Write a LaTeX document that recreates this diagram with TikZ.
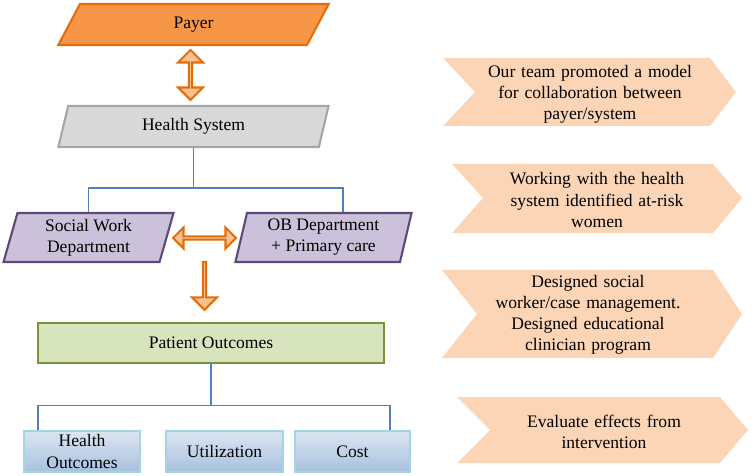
\documentclass[tikz,border=0pt]{standalone}
\usepackage{fontspec}
\setmainfont{Liberation Serif}
\usetikzlibrary{shapes.geometric,shapes.arrows,positioning}

\definecolor{payerfill}{HTML}{F79646}
\definecolor{payerline}{HTML}{E46C0A}
\definecolor{arrowfill}{HTML}{FAC090}
\definecolor{sysfill}{HTML}{D9D9D9}
\definecolor{sysline}{HTML}{A6A6A6}
\definecolor{deptfill}{HTML}{CCC1DA}
\definecolor{deptline}{HTML}{5F497A}
\definecolor{outfill}{HTML}{D7E4BD}
\definecolor{outline}{HTML}{77933C}
\definecolor{boxtop}{HTML}{DCE6F2}
\definecolor{boxbottom}{HTML}{A7C0DE}
\definecolor{boxline}{HTML}{A5D5E2}
\definecolor{treeline}{HTML}{4F81BD}
\definecolor{chevfill}{HTML}{FBD5B5}

\begin{document}
\begin{tikzpicture}[x=0.02cm, y=-0.02cm, font=\fontsize{10}{12}\selectfont,
    para/.style={trapezium, trapezium stretches=true, trapezium left angle=76, trapezium right angle=104, line width=1.2pt, align=center, inner sep=0pt},
    blockarrow/.style={fill=arrowfill, draw=payerline, line width=1.2pt, inner sep=0pt},
    outbox/.style={rectangle, draw=boxline, line width=1pt, top color=boxtop, bottom color=boxbottom, minimum height=0.82cm, align=center, inner sep=0pt},
    tree/.style={draw=treeline, line width=0.7pt},
    note/.style={align=center, text width=4.6cm}]
    \useasboundingbox (0,0) rectangle (754,476);

    % left column
    \node[para, fill=payerfill, draw=payerline, minimum width=5.42cm, minimum height=0.82cm] (payer) at (193.5,24.5) {Payer};
    \node[double arrow, blockarrow, rotate=90, minimum height=1cm, minimum width=0.5cm, double arrow head extend=0.14cm] (a1) at (190.5,75) {};
    \node[para, fill=sysfill, draw=sysline, minimum width=5.42cm, minimum height=0.82cm] (hs) at (193.5,126.5) {Health System};

    \node[para, trapezium left angle=77, trapezium right angle=103, fill=deptfill, draw=deptline, minimum width=3.42cm, minimum height=0.98cm] (sw) at (88.5,237.5) {Social Work\\Department};
    \node[para, trapezium left angle=77, trapezium right angle=103, fill=deptfill, draw=deptline, minimum width=3.54cm, minimum height=0.98cm] (ob) at (323.5,237.5) {OB Department\\+ Primary care};
    \node[double arrow, blockarrow, minimum height=1.26cm, minimum width=0.42cm, double arrow head extend=0.11cm] (a2) at (204.5,238) {};
    \node[single arrow, blockarrow, rotate=-90, minimum height=0.96cm, minimum width=0.5cm, single arrow head extend=0.14cm] (a3) at (204.5,285) {};

    \node[rectangle, fill=outfill, draw=outline, line width=1.5pt, minimum width=6.92cm, minimum height=0.8cm] (po) at (211,343) {Patient Outcomes};

    \node[outbox, minimum width=2.32cm] (ho) at (82,451.5) {Health\\Outcomes};
    \node[outbox, minimum width=2.34cm] (ut) at (224.5,451.5) {Utilization};
    \node[outbox, minimum width=2.3cm] (co) at (352.5,451.5) {Cost};

    \draw[tree] (hs.south) -- ++(0,40) coordinate (hsjoin);
    \draw[tree] (sw.north) |- (hsjoin) -| ([xshift=0.39cm]ob.north);
    \draw[tree] (po.south) -- ++(0,41) coordinate (pojoin);
    \draw[tree] ([xshift=-0.88cm]ho.north) |- (pojoin) -| ([xshift=0.75cm]co.north);

    % right column
    \fill[chevfill] (443,58) -- (710,58) -- (736,92) -- (710,126) -- (443,126) -- (475,92) -- cycle;
    \fill[chevfill] (452,164) -- (713,164) -- (742,198) -- (713,233) -- (452,233) -- (483,198) -- cycle;
    \fill[chevfill] (442,270) -- (713,270) -- (742,314) -- (713,358) -- (442,358) -- (477,314) -- cycle;
    \fill[chevfill] (457,397) -- (720,397) -- (748,430) -- (720,463) -- (457,463) -- (490,430) -- cycle;

    \node[note] (n1) at (590,94) {Our team promoted a model\\for collaboration between\\payer/system};
    \node[note] (n2) at (597,200) {Working with the health\\system identified at-risk\\women};
    \node[note] (n3) at (588,315) {Designed social\\worker/case management.\\Designed educational\\clinician program};
    \node[note] (n4) at (604,432) {Evaluate effects from\\intervention};
\end{tikzpicture}
\end{document}
